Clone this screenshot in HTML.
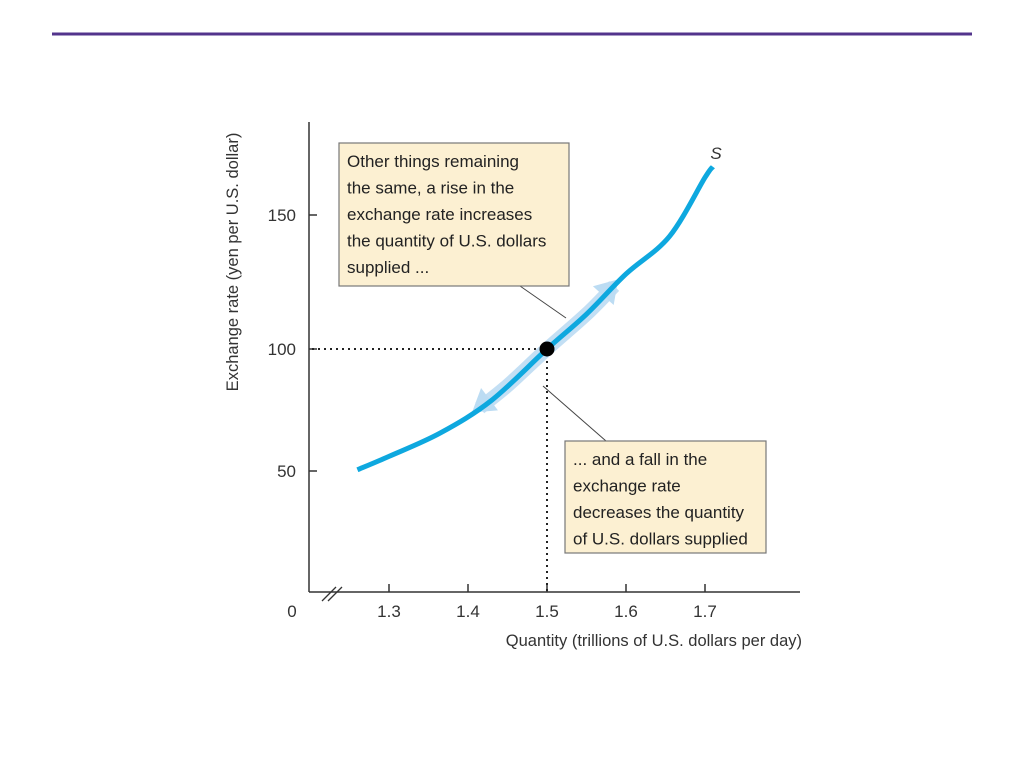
<!DOCTYPE html>
<html><head><meta charset="utf-8"><style>
body{margin:0;background:#fff;}
svg{display:block;font-family:"Liberation Sans",sans-serif;}
</style></head><body>
<svg id="chart" width="1024" height="768" viewBox="0 0 1024 768">
<rect x="52" y="32.5" width="920" height="3" fill="#53348c"/>
<g id="plot"></g>
</svg>
<script>
const qValues=[1.26,1.3,1.365,1.43,1.5,1.55,1.6,1.655,1.7,1.71];
const pValues=[50.5,56,65.6,79,100,113,128,142,164,168];
const xTicks=[1.3,1.4,1.5,1.6,1.7];
const xTickLabels=["1.3","1.4","1.5","1.6","1.7"];
const yTicks=[50,100,150];
const yTickLabels=["50","100","150"];
const eqQ=1.5, eqP=100;
const NS="http://www.w3.org/2000/svg";
const g=document.getElementById('plot');
function xS(q){return 547+(q-1.5)*790;}
function yS(p){ if(p<=100) return 349-(p-100)*122/50; return 349-(p-100)*134/50;}
function mk(tag,attrs,parent){const e=document.createElementNS(NS,tag);for(const k in attrs)e.setAttribute(k,attrs[k]);(parent||g).appendChild(e);return e;}
function txt(s,attrs){const e=mk('text',attrs);e.textContent=s;return e;}
function curvePath(qs,ps){
  const pts=qs.map((q,i)=>[xS(q),yS(ps[i])]);
  let d='M'+pts[0][0]+','+pts[0][1];
  for(let i=0;i<pts.length-1;i++){
    const p0=pts[Math.max(0,i-1)],p1=pts[i],p2=pts[i+1],p3=pts[Math.min(pts.length-1,i+2)];
    const c1=[p1[0]+(p2[0]-p0[0])/6,p1[1]+(p2[1]-p0[1])/6];
    const c2=[p2[0]-(p3[0]-p1[0])/6,p2[1]-(p3[1]-p1[1])/6];
    d+=' C'+c1[0]+','+c1[1]+' '+c2[0]+','+c2[1]+' '+p2[0]+','+p2[1];
  }
  return d;
}
// axes
let e=mk('line',{x1:309,y1:122,x2:309,y2:592,stroke:'#333','stroke-width':1.5});

e=mk('line',{x1:309,y1:592,x2:800,y2:592,stroke:'#333','stroke-width':1.5});

e=mk('path',{d:'M322,601 L336,587 M328,601 L342,587',stroke:'#333','stroke-width':1.3,fill:'none'});

xTicks.forEach((t,i)=>{
  let l=mk('line',{x1:xS(t),y1:592,x2:xS(t),y2:584,stroke:'#333','stroke-width':1.5});
  
  let s=txt(xTickLabels[i],{x:xS(t),y:617,'text-anchor':'middle','font-size':17,fill:'#333'});
  
});
yTicks.forEach((t,i)=>{
  let l=mk('line',{x1:309,y1:yS(t),x2:317,y2:yS(t),stroke:'#333','stroke-width':1.5});
  
  let s=txt(yTickLabels[i],{x:296,y:yS(t)+6,'text-anchor':'end','font-size':17,fill:'#333'});
  
});
e=txt('0',{x:292,y:617,'text-anchor':'middle','font-size':17,fill:'#333'});

e=txt('Quantity (trillions of U.S. dollars per day)',{x:802,y:646,'text-anchor':'end','font-size':16.5,fill:'#333'});

e=txt('Exchange rate (yen per U.S. dollar)',{x:0,y:0,'text-anchor':'middle','font-size':16.5,fill:'#333',transform:'translate(238,262) rotate(-90)'});

// dotted guides
e=mk('line',{x1:312,y1:yS(eqP),x2:xS(eqQ),y2:yS(eqP),stroke:'#222','stroke-width':2,'stroke-dasharray':'2,4'});

e=mk('line',{x1:xS(eqQ),y1:yS(eqP),x2:xS(eqQ),y2:592,stroke:'#222','stroke-width':2,'stroke-dasharray':'2,4'});

// leader lines
e=mk('line',{x1:520,y1:286,x2:566,y2:318,stroke:'#444','stroke-width':1});

e=mk('line',{x1:543,y1:386,x2:606,y2:441,stroke:'#444','stroke-width':1});

// movement bands
const bandQ=[1.415,1.45,1.5,1.55,1.585];
const bandP=bandQ.map(q=>{for(let i=0;i<qValues.length-1;i++){if(q>=qValues[i]&&q<=qValues[i+1]){const t=(q-qValues[i])/(qValues[i+1]-qValues[i]);return pValues[i]+t*(pValues[i+1]-pValues[i]);}}return 100;});
e=mk('path',{d:curvePath(bandQ,bandP),stroke:'#bcdcf3','stroke-width':14,fill:'none',opacity:0.9});

function head(q1,p1,q0,p0,name){
  const x1=xS(q1),y1=yS(p1),x0=xS(q0),y0=yS(p0);
  const a=Math.atan2(y1-y0,x1-x0);const L=22,W=14;
  const bx=x1-L*Math.cos(a),by=y1-L*Math.sin(a);
  const px=-Math.sin(a)*W,py=Math.cos(a)*W;
  const h=mk('polygon',{points:`${x1},${y1} ${bx+px},${by+py} ${bx-px},${by-py}`,fill:'#bcdcf3'});
  
}
head(1.59,126,1.55,113,'arrow-up');
head(1.405,74,1.45,85,'arrow-down');
// supply curve
e=mk('path',{d:curvePath(qValues,pValues),stroke:'#0ea8df','stroke-width':5,fill:'none','stroke-linecap':'butt'});

e=txt('S',{x:716,y:159,'text-anchor':'middle','font-size':17,'font-style':'italic',fill:'#333'});

e=mk('circle',{cx:xS(eqQ),cy:yS(eqP),r:7.5,fill:'#000'});

// boxes
function box(x,y,w,h,lines,name){
  const r=mk('rect',{x:x,y:y,width:w,height:h,fill:'#fcf0d2',stroke:'#777','stroke-width':1.2});
  
  lines.forEach((s,i)=>{const t=txt(s,{x:x+8,y:y+24+i*26.5,'font-size':17,fill:'#222'});
    });
}
box(339,143,230,143,['Other things remaining','the same, a rise in the','exchange rate increases','the quantity of U.S. dollars','supplied ...'],'annotation-rise');
box(565,441,201,112,['... and a fall in the','exchange rate','decreases the quantity','of U.S. dollars supplied'],'annotation-fall');
</script>
</body></html>
